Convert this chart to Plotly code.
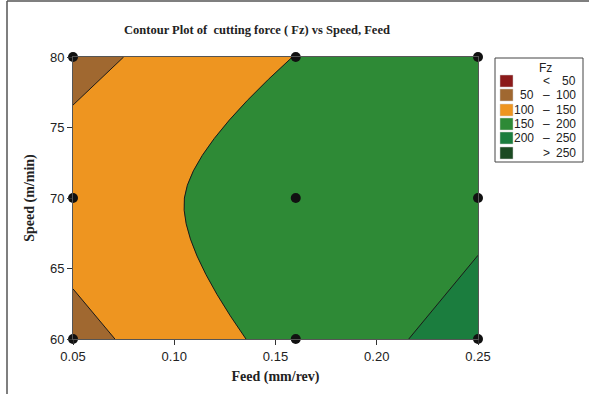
import plotly.graph_objects as go

# ---- data ----
feed = [0.05, 0.16, 0.25]            # mm/rev
speed = [60, 70, 80]                 # m/min
fz = [                               # rows follow speed, columns follow feed
    [84, 169, 219],
    [129, 171, 187],
    [85, 151, 175],
]
levels_start, levels_end, levels_size = 50, 250, 50
band_colors = ["#8B1A1A", "#A06830", "#EE9520", "#2E8A36", "#1B7D3E", "#1B4A22"]
legend_left = ["", "50", "100", "150", "200", ""]
legend_mid = ["<", "–", "–", "–", "–", ">"]
legend_right = ["50", "100", "150", "200", "250", "250"]

W, H = 589, 394
L, R, T, B = 73, 478, 57, 339   # plot area in pixels


def px(x):
    return (x - L) / (R - L)


def py(y):
    return (B - y) / (B - T)


n = len(band_colors)
colorscale = [[i / (n - 1), c] for i, c in enumerate(band_colors)]

fig = go.Figure()
fig.add_trace(go.Contour(
    x=feed, y=speed, z=fz,
    colorscale=colorscale,
    autocontour=False,
    contours=dict(start=levels_start, end=levels_end, size=levels_size, coloring="fill"),
    line=dict(color="#1a1a1a", width=1, smoothing=1),
    showscale=False,
    hoverinfo="skip",
))

fx, fy = [], []
for s in speed:
    for f in feed:
        fx.append(f)
        fy.append(s)
fig.add_trace(go.Scatter(
    x=fx, y=fy, mode="markers",
    marker=dict(color="#111111", size=10),
    cliponaxis=False, showlegend=False, hoverinfo="skip",
))

tick_font = dict(family="Liberation Sans", size=13, color="#222")
title_font = dict(family="Liberation Serif", size=14, color="#222")

fig.update_layout(
    width=W, height=H,
    margin=dict(l=L, r=W - R, t=T, b=H - B),
    paper_bgcolor="white", plot_bgcolor="white",
    showlegend=False,
    title=dict(text="<b>Contour Plot of  cutting force ( Fz) vs Speed, Feed</b>",
               x=257 / W, xanchor="center", y=1 - 30 / H, yanchor="middle",
               font=dict(family="Liberation Serif", size=12.5, color="#222")),
    xaxis=dict(range=[0.05, 0.25], tickvals=[0.05, 0.10, 0.15, 0.20, 0.25],
               ticktext=["0.05", "0.10", "0.15", "0.20", "0.25"],
               ticks="outside", ticklen=5, tickcolor="#333",
               showline=True, linecolor="#555", linewidth=1, mirror=True,
               showgrid=False, zeroline=False, tickfont=tick_font,
               title=dict(text="<b>Feed (mm/rev)</b>", font=title_font, standoff=8)),
    yaxis=dict(range=[60, 80], tickvals=[60, 65, 70, 75, 80],
               ticks="outside", ticklen=5, tickcolor="#333",
               showline=True, linecolor="#555", linewidth=1, mirror=True,
               showgrid=False, zeroline=False, tickfont=tick_font,
               title=dict(text="<b>Speed (m/min)</b>", font=title_font, standoff=12)),
)

shapes = []
# outer frame (top and left only)
shapes.append(dict(type="line", xref="paper", yref="paper",
                   x0=px(7), y0=py(1), x1=px(W + 5), y1=py(1),
                   line=dict(color="#555", width=1.5)))
shapes.append(dict(type="line", xref="paper", yref="paper",
                   x0=px(7), y0=py(1), x1=px(7), y1=py(H + 5),
                   line=dict(color="#555", width=1.5)))
# legend box
shapes.append(dict(type="rect", xref="paper", yref="paper",
                   x0=px(495), y0=py(58), x1=px(583), y1=py(162),
                   line=dict(color="#444", width=1), fillcolor="white"))

annotations = [dict(text="Fz", xref="paper", yref="paper", x=px(545), y=py(68),
                    showarrow=False, xanchor="center", yanchor="middle",
                    font=dict(family="Liberation Sans", size=12, color="#222"))]
row_y = [81, 95, 110, 124, 138, 153]
for i, c in enumerate(band_colors):
    yc = row_y[i]
    shapes.append(dict(type="rect", xref="paper", yref="paper",
                       x0=px(500), y0=py(yc - 6), x1=px(513), y1=py(yc + 6),
                       line=dict(color="#ccc", width=0.5), fillcolor=c))
    f = dict(family="Liberation Sans", size=12, color="#222")
    if legend_left[i]:
        annotations.append(dict(text=legend_left[i], xref="paper", yref="paper",
                                x=px(535), y=py(yc), showarrow=False, borderpad=0,
                                xanchor="right", yanchor="middle", font=f))
    annotations.append(dict(text=legend_mid[i], xref="paper", yref="paper",
                            x=px(546), y=py(yc), showarrow=False, borderpad=0,
                            xanchor="center", yanchor="middle", font=f))
    annotations.append(dict(text=legend_right[i], xref="paper", yref="paper",
                            x=px(577), y=py(yc), showarrow=False, borderpad=0,
                            xanchor="right", yanchor="middle", font=f))

fig.update_layout(shapes=shapes, annotations=annotations)
fig.write_html("out.html")
